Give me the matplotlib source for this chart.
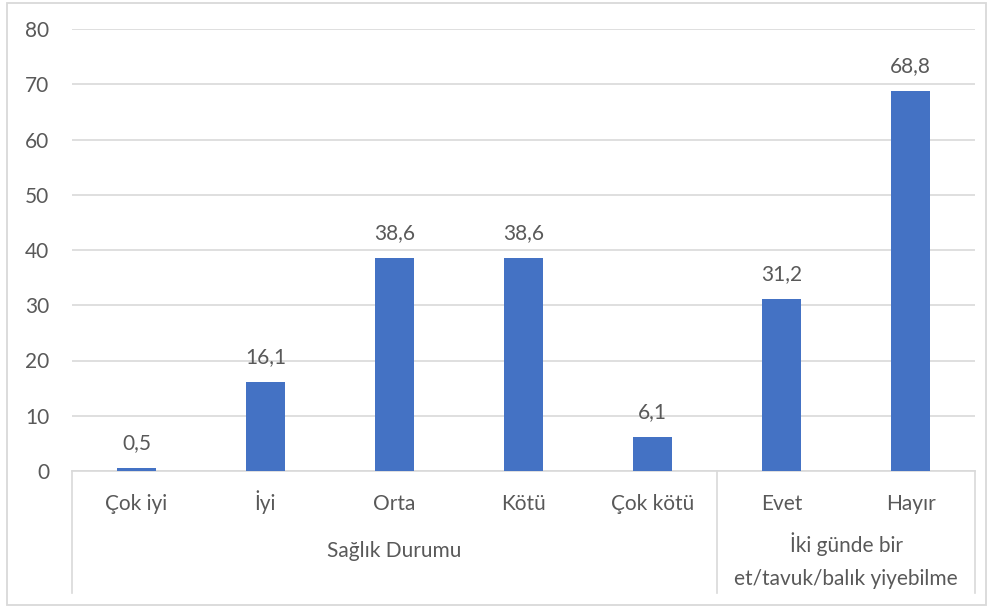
import numpy as np
import matplotlib.pyplot as plt
import matplotlib.transforms as mtransforms
from matplotlib.patches import Rectangle

# values
categories = ["Çok iyi", "İyi", "Orta", "Kötü", "Çok kötü", "Evet", "Hayır"]
values = [0.5, 16.1, 38.6, 38.6, 6.1, 31.2, 68.8]
groups = [["Sağlık Durumu"], ["İki günde bir", "et/tavuk/balık yiyebilme"]]
group_sizes = [5, 2]
yticks = [0, 10, 20, 30, 40, 50, 60, 70, 80]

plt.rcParams['font.family'] = ['Lato', 'DejaVu Sans']
TXT = '#595959'
GRID = '#d9d9d9'
BAR = '#4472C4'
FS = 15

W, H = 994, 608
fig = plt.figure(figsize=(W / 100, H / 100), dpi=100)
# outer chart border
fig.patches.append(Rectangle((7 / W, 3 / H), 979 / W, 602 / H, transform=fig.transFigure,
                             fill=False, edgecolor=GRID, linewidth=1.3))

# plot area in pixels: x 72..975, y 29..471
AX_H = 442
ax = fig.add_axes([72 / W, 1 - 471 / H, 903 / W, AX_H / H])
x = np.arange(len(categories))
bars = ax.bar(x, values, width=0.31, color=BAR, zorder=3)
for xi, v in zip(x, values):
    ax.annotate(f"{v:.1f}".replace('.', ','), (xi, v), xytext=(0, 13.5), textcoords='offset points',
                ha='center', va='baseline', fontsize=FS, color=TXT)

ax.set_xlim(-0.5, len(categories) - 0.5)
ax.set_ylim(0, 80)
ax.set_yticks(yticks)
ax.set_yticklabels([str(t) for t in yticks], fontsize=FS, color=TXT)
ax.tick_params(axis='y', length=0, pad=16.5)
ax.set_xticks([])
ax.grid(axis='y', color=GRID, linewidth=1.2, zorder=0)
for s in ['top', 'right', 'left']:
    ax.spines[s].set_visible(False)
ax.spines['bottom'].set_color(GRID)
ax.spines['bottom'].set_linewidth(1.2)

# multi-level category axis (pixel baselines converted to axes fraction)
tr = mtransforms.blended_transform_factory(ax.transData, ax.transAxes)
def below(px):
    return -px / AX_H

for xi, c in zip(x, categories):
    ax.text(xi, below(39), c, transform=tr, ha='center', va='baseline', fontsize=FS, color=TXT)

edges = np.concatenate([[0], np.cumsum(group_sizes)]) - 0.5
for e in edges:
    ax.plot([e, e], [0, below(122)], transform=tr, color=GRID, linewidth=1.2, clip_on=False)
for i, lines in enumerate(groups):
    c = (edges[i] + edges[i + 1]) / 2
    base = 86 if len(lines) == 1 else 81
    for j, line in enumerate(lines):
        ax.text(c, below(base + 33 * j), line, transform=tr, ha='center', va='baseline',
                fontsize=FS, color=TXT)

fig.savefig('out.png', dpi=100)
